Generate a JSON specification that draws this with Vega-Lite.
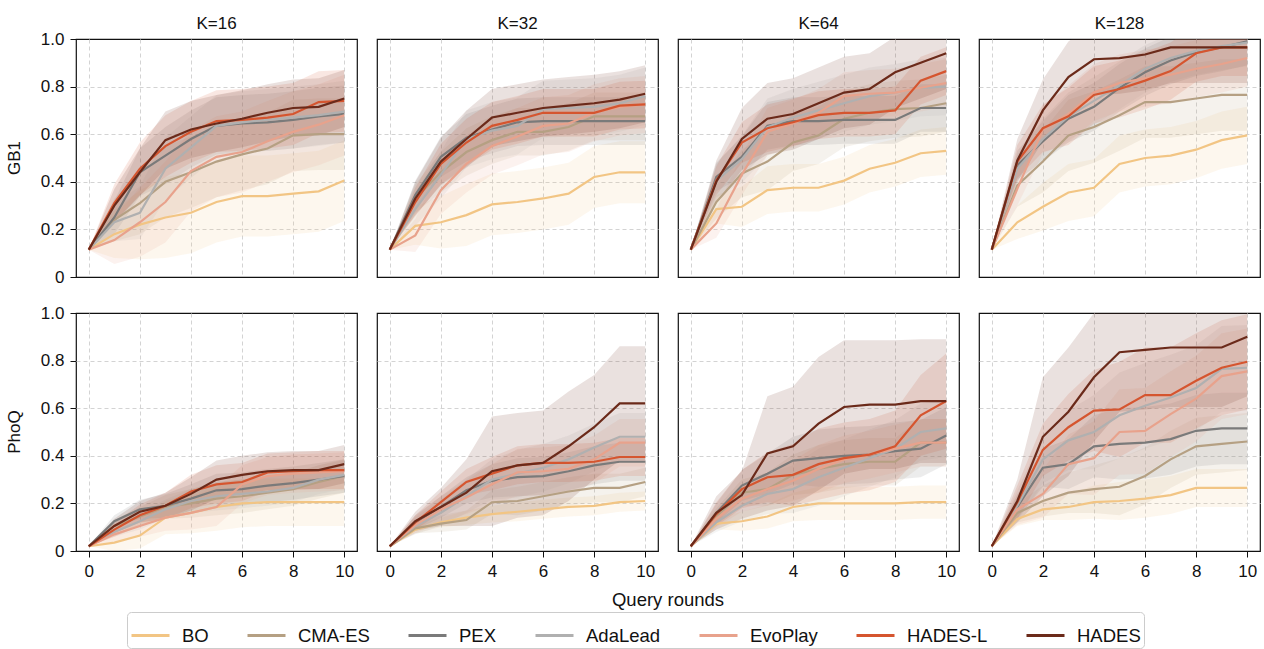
{
"$schema": "https://vega.github.io/schema/vega-lite/v6.json",
"padding": {"left": 6, "top": 15, "right": 0, "bottom": 0},
"bounds": "flush",
"datasets": {"pts": [
{"d":"GB1","k":"K=16","m":"BO","x":0,"y":0.115,"s":0},{"d":"GB1","k":"K=16","m":"BO","x":1,"y":0.18,"s":0.10},{"d":"GB1","k":"K=16","m":"BO","x":2,"y":0.22,"s":0.145},{"d":"GB1","k":"K=16","m":"BO","x":3,"y":0.25,"s":0.17},{"d":"GB1","k":"K=16","m":"BO","x":4,"y":0.27,"s":0.17},{"d":"GB1","k":"K=16","m":"BO","x":5,"y":0.315,"s":0.17},{"d":"GB1","k":"K=16","m":"BO","x":6,"y":0.34,"s":0.17},{"d":"GB1","k":"K=16","m":"BO","x":7,"y":0.34,"s":0.17},{"d":"GB1","k":"K=16","m":"BO","x":8,"y":0.35,"s":0.17},{"d":"GB1","k":"K=16","m":"BO","x":9,"y":0.36,"s":0.17},{"d":"GB1","k":"K=16","m":"BO","x":10,"y":0.405,"s":0.17},
{"d":"GB1","k":"K=16","m":"CMA-ES","x":0,"y":0.115,"s":0},{"d":"GB1","k":"K=16","m":"CMA-ES","x":1,"y":0.24,"s":0.09},{"d":"GB1","k":"K=16","m":"CMA-ES","x":2,"y":0.31,"s":0.13},{"d":"GB1","k":"K=16","m":"CMA-ES","x":3,"y":0.40,"s":0.15},{"d":"GB1","k":"K=16","m":"CMA-ES","x":4,"y":0.44,"s":0.15},{"d":"GB1","k":"K=16","m":"CMA-ES","x":5,"y":0.485,"s":0.15},{"d":"GB1","k":"K=16","m":"CMA-ES","x":6,"y":0.515,"s":0.15},{"d":"GB1","k":"K=16","m":"CMA-ES","x":7,"y":0.54,"s":0.15},{"d":"GB1","k":"K=16","m":"CMA-ES","x":8,"y":0.595,"s":0.15},{"d":"GB1","k":"K=16","m":"CMA-ES","x":9,"y":0.60,"s":0.15},{"d":"GB1","k":"K=16","m":"CMA-ES","x":10,"y":0.60,"s":0.15},
{"d":"GB1","k":"K=16","m":"PEX","x":0,"y":0.115,"s":0},{"d":"GB1","k":"K=16","m":"PEX","x":1,"y":0.25,"s":0.07},{"d":"GB1","k":"K=16","m":"PEX","x":2,"y":0.44,"s":0.10},{"d":"GB1","k":"K=16","m":"PEX","x":3,"y":0.51,"s":0.12},{"d":"GB1","k":"K=16","m":"PEX","x":4,"y":0.58,"s":0.12},{"d":"GB1","k":"K=16","m":"PEX","x":5,"y":0.635,"s":0.12},{"d":"GB1","k":"K=16","m":"PEX","x":6,"y":0.645,"s":0.12},{"d":"GB1","k":"K=16","m":"PEX","x":7,"y":0.65,"s":0.12},{"d":"GB1","k":"K=16","m":"PEX","x":8,"y":0.66,"s":0.12},{"d":"GB1","k":"K=16","m":"PEX","x":9,"y":0.675,"s":0.12},{"d":"GB1","k":"K=16","m":"PEX","x":10,"y":0.685,"s":0.12},
{"d":"GB1","k":"K=16","m":"AdaLead","x":0,"y":0.115,"s":0},{"d":"GB1","k":"K=16","m":"AdaLead","x":1,"y":0.23,"s":0.08},{"d":"GB1","k":"K=16","m":"AdaLead","x":2,"y":0.27,"s":0.11},{"d":"GB1","k":"K=16","m":"AdaLead","x":3,"y":0.455,"s":0.13},{"d":"GB1","k":"K=16","m":"AdaLead","x":4,"y":0.545,"s":0.13},{"d":"GB1","k":"K=16","m":"AdaLead","x":5,"y":0.635,"s":0.13},{"d":"GB1","k":"K=16","m":"AdaLead","x":6,"y":0.65,"s":0.13},{"d":"GB1","k":"K=16","m":"AdaLead","x":7,"y":0.66,"s":0.13},{"d":"GB1","k":"K=16","m":"AdaLead","x":8,"y":0.67,"s":0.13},{"d":"GB1","k":"K=16","m":"AdaLead","x":9,"y":0.68,"s":0.13},{"d":"GB1","k":"K=16","m":"AdaLead","x":10,"y":0.695,"s":0.13},
{"d":"GB1","k":"K=16","m":"EvoPlay","x":0,"y":0.115,"s":0},{"d":"GB1","k":"K=16","m":"EvoPlay","x":1,"y":0.155,"s":0.10},{"d":"GB1","k":"K=16","m":"EvoPlay","x":2,"y":0.23,"s":0.145},{"d":"GB1","k":"K=16","m":"EvoPlay","x":3,"y":0.315,"s":0.17},{"d":"GB1","k":"K=16","m":"EvoPlay","x":4,"y":0.445,"s":0.17},{"d":"GB1","k":"K=16","m":"EvoPlay","x":5,"y":0.505,"s":0.17},{"d":"GB1","k":"K=16","m":"EvoPlay","x":6,"y":0.525,"s":0.17},{"d":"GB1","k":"K=16","m":"EvoPlay","x":7,"y":0.57,"s":0.17},{"d":"GB1","k":"K=16","m":"EvoPlay","x":8,"y":0.61,"s":0.17},{"d":"GB1","k":"K=16","m":"EvoPlay","x":9,"y":0.64,"s":0.17},{"d":"GB1","k":"K=16","m":"EvoPlay","x":10,"y":0.68,"s":0.17},
{"d":"GB1","k":"K=16","m":"HADES-L","x":0,"y":0.115,"s":0},{"d":"GB1","k":"K=16","m":"HADES-L","x":1,"y":0.31,"s":0.08},{"d":"GB1","k":"K=16","m":"HADES-L","x":2,"y":0.455,"s":0.11},{"d":"GB1","k":"K=16","m":"HADES-L","x":3,"y":0.55,"s":0.13},{"d":"GB1","k":"K=16","m":"HADES-L","x":4,"y":0.61,"s":0.13},{"d":"GB1","k":"K=16","m":"HADES-L","x":5,"y":0.655,"s":0.13},{"d":"GB1","k":"K=16","m":"HADES-L","x":6,"y":0.66,"s":0.13},{"d":"GB1","k":"K=16","m":"HADES-L","x":7,"y":0.67,"s":0.13},{"d":"GB1","k":"K=16","m":"HADES-L","x":8,"y":0.685,"s":0.13},{"d":"GB1","k":"K=16","m":"HADES-L","x":9,"y":0.735,"s":0.13},{"d":"GB1","k":"K=16","m":"HADES-L","x":10,"y":0.74,"s":0.13},
{"d":"GB1","k":"K=16","m":"HADES","x":0,"y":0.115,"s":0},{"d":"GB1","k":"K=16","m":"HADES","x":1,"y":0.30,"s":0.07},{"d":"GB1","k":"K=16","m":"HADES","x":2,"y":0.44,"s":0.10},{"d":"GB1","k":"K=16","m":"HADES","x":3,"y":0.575,"s":0.12},{"d":"GB1","k":"K=16","m":"HADES","x":4,"y":0.62,"s":0.12},{"d":"GB1","k":"K=16","m":"HADES","x":5,"y":0.645,"s":0.12},{"d":"GB1","k":"K=16","m":"HADES","x":6,"y":0.665,"s":0.12},{"d":"GB1","k":"K=16","m":"HADES","x":7,"y":0.69,"s":0.12},{"d":"GB1","k":"K=16","m":"HADES","x":8,"y":0.71,"s":0.12},{"d":"GB1","k":"K=16","m":"HADES","x":9,"y":0.715,"s":0.12},{"d":"GB1","k":"K=16","m":"HADES","x":10,"y":0.75,"s":0.12},

{"d":"GB1","k":"K=32","m":"BO","x":0,"y":0.115,"s":0},{"d":"GB1","k":"K=32","m":"BO","x":1,"y":0.215,"s":0.08},{"d":"GB1","k":"K=32","m":"BO","x":2,"y":0.23,"s":0.11},{"d":"GB1","k":"K=32","m":"BO","x":3,"y":0.26,"s":0.13},{"d":"GB1","k":"K=32","m":"BO","x":4,"y":0.305,"s":0.13},{"d":"GB1","k":"K=32","m":"BO","x":5,"y":0.315,"s":0.13},{"d":"GB1","k":"K=32","m":"BO","x":6,"y":0.33,"s":0.13},{"d":"GB1","k":"K=32","m":"BO","x":7,"y":0.35,"s":0.13},{"d":"GB1","k":"K=32","m":"BO","x":8,"y":0.42,"s":0.13},{"d":"GB1","k":"K=32","m":"BO","x":9,"y":0.44,"s":0.13},{"d":"GB1","k":"K=32","m":"BO","x":10,"y":0.44,"s":0.13},
{"d":"GB1","k":"K=32","m":"CMA-ES","x":0,"y":0.115,"s":0},{"d":"GB1","k":"K=32","m":"CMA-ES","x":1,"y":0.33,"s":0.06},{"d":"GB1","k":"K=32","m":"CMA-ES","x":2,"y":0.44,"s":0.085},{"d":"GB1","k":"K=32","m":"CMA-ES","x":3,"y":0.525,"s":0.10},{"d":"GB1","k":"K=32","m":"CMA-ES","x":4,"y":0.575,"s":0.10},{"d":"GB1","k":"K=32","m":"CMA-ES","x":5,"y":0.61,"s":0.10},{"d":"GB1","k":"K=32","m":"CMA-ES","x":6,"y":0.61,"s":0.10},{"d":"GB1","k":"K=32","m":"CMA-ES","x":7,"y":0.63,"s":0.10},{"d":"GB1","k":"K=32","m":"CMA-ES","x":8,"y":0.675,"s":0.10},{"d":"GB1","k":"K=32","m":"CMA-ES","x":9,"y":0.675,"s":0.10},{"d":"GB1","k":"K=32","m":"CMA-ES","x":10,"y":0.675,"s":0.10},
{"d":"GB1","k":"K=32","m":"PEX","x":0,"y":0.115,"s":0},{"d":"GB1","k":"K=32","m":"PEX","x":1,"y":0.345,"s":0.06},{"d":"GB1","k":"K=32","m":"PEX","x":2,"y":0.505,"s":0.085},{"d":"GB1","k":"K=32","m":"PEX","x":3,"y":0.585,"s":0.10},{"d":"GB1","k":"K=32","m":"PEX","x":4,"y":0.62,"s":0.10},{"d":"GB1","k":"K=32","m":"PEX","x":5,"y":0.65,"s":0.10},{"d":"GB1","k":"K=32","m":"PEX","x":6,"y":0.655,"s":0.10},{"d":"GB1","k":"K=32","m":"PEX","x":7,"y":0.655,"s":0.10},{"d":"GB1","k":"K=32","m":"PEX","x":8,"y":0.655,"s":0.10},{"d":"GB1","k":"K=32","m":"PEX","x":9,"y":0.655,"s":0.10},{"d":"GB1","k":"K=32","m":"PEX","x":10,"y":0.655,"s":0.10},
{"d":"GB1","k":"K=32","m":"AdaLead","x":0,"y":0.115,"s":0},{"d":"GB1","k":"K=32","m":"AdaLead","x":1,"y":0.285,"s":0.07},{"d":"GB1","k":"K=32","m":"AdaLead","x":2,"y":0.43,"s":0.10},{"d":"GB1","k":"K=32","m":"AdaLead","x":3,"y":0.58,"s":0.12},{"d":"GB1","k":"K=32","m":"AdaLead","x":4,"y":0.615,"s":0.12},{"d":"GB1","k":"K=32","m":"AdaLead","x":5,"y":0.635,"s":0.12},{"d":"GB1","k":"K=32","m":"AdaLead","x":6,"y":0.705,"s":0.12},{"d":"GB1","k":"K=32","m":"AdaLead","x":7,"y":0.71,"s":0.12},{"d":"GB1","k":"K=32","m":"AdaLead","x":8,"y":0.715,"s":0.12},{"d":"GB1","k":"K=32","m":"AdaLead","x":9,"y":0.73,"s":0.12},{"d":"GB1","k":"K=32","m":"AdaLead","x":10,"y":0.76,"s":0.12},
{"d":"GB1","k":"K=32","m":"EvoPlay","x":0,"y":0.115,"s":0},{"d":"GB1","k":"K=32","m":"EvoPlay","x":1,"y":0.175,"s":0.07},{"d":"GB1","k":"K=32","m":"EvoPlay","x":2,"y":0.365,"s":0.10},{"d":"GB1","k":"K=32","m":"EvoPlay","x":3,"y":0.475,"s":0.12},{"d":"GB1","k":"K=32","m":"EvoPlay","x":4,"y":0.55,"s":0.12},{"d":"GB1","k":"K=32","m":"EvoPlay","x":5,"y":0.59,"s":0.12},{"d":"GB1","k":"K=32","m":"EvoPlay","x":6,"y":0.635,"s":0.12},{"d":"GB1","k":"K=32","m":"EvoPlay","x":7,"y":0.645,"s":0.12},{"d":"GB1","k":"K=32","m":"EvoPlay","x":8,"y":0.69,"s":0.12},{"d":"GB1","k":"K=32","m":"EvoPlay","x":9,"y":0.715,"s":0.12},{"d":"GB1","k":"K=32","m":"EvoPlay","x":10,"y":0.725,"s":0.12},
{"d":"GB1","k":"K=32","m":"HADES-L","x":0,"y":0.115,"s":0},{"d":"GB1","k":"K=32","m":"HADES-L","x":1,"y":0.315,"s":0.06},{"d":"GB1","k":"K=32","m":"HADES-L","x":2,"y":0.475,"s":0.085},{"d":"GB1","k":"K=32","m":"HADES-L","x":3,"y":0.565,"s":0.10},{"d":"GB1","k":"K=32","m":"HADES-L","x":4,"y":0.635,"s":0.10},{"d":"GB1","k":"K=32","m":"HADES-L","x":5,"y":0.66,"s":0.10},{"d":"GB1","k":"K=32","m":"HADES-L","x":6,"y":0.69,"s":0.10},{"d":"GB1","k":"K=32","m":"HADES-L","x":7,"y":0.69,"s":0.10},{"d":"GB1","k":"K=32","m":"HADES-L","x":8,"y":0.69,"s":0.10},{"d":"GB1","k":"K=32","m":"HADES-L","x":9,"y":0.72,"s":0.10},{"d":"GB1","k":"K=32","m":"HADES-L","x":10,"y":0.725,"s":0.10},
{"d":"GB1","k":"K=32","m":"HADES","x":0,"y":0.115,"s":0},{"d":"GB1","k":"K=32","m":"HADES","x":1,"y":0.33,"s":0.07},{"d":"GB1","k":"K=32","m":"HADES","x":2,"y":0.485,"s":0.10},{"d":"GB1","k":"K=32","m":"HADES","x":3,"y":0.58,"s":0.12},{"d":"GB1","k":"K=32","m":"HADES","x":4,"y":0.67,"s":0.12},{"d":"GB1","k":"K=32","m":"HADES","x":5,"y":0.69,"s":0.12},{"d":"GB1","k":"K=32","m":"HADES","x":6,"y":0.71,"s":0.12},{"d":"GB1","k":"K=32","m":"HADES","x":7,"y":0.72,"s":0.12},{"d":"GB1","k":"K=32","m":"HADES","x":8,"y":0.73,"s":0.12},{"d":"GB1","k":"K=32","m":"HADES","x":9,"y":0.745,"s":0.12},{"d":"GB1","k":"K=32","m":"HADES","x":10,"y":0.77,"s":0.12},

{"d":"GB1","k":"K=64","m":"BO","x":0,"y":0.115,"s":0},{"d":"GB1","k":"K=64","m":"BO","x":1,"y":0.285,"s":0.06},{"d":"GB1","k":"K=64","m":"BO","x":2,"y":0.295,"s":0.085},{"d":"GB1","k":"K=64","m":"BO","x":3,"y":0.365,"s":0.10},{"d":"GB1","k":"K=64","m":"BO","x":4,"y":0.375,"s":0.10},{"d":"GB1","k":"K=64","m":"BO","x":5,"y":0.375,"s":0.10},{"d":"GB1","k":"K=64","m":"BO","x":6,"y":0.405,"s":0.10},{"d":"GB1","k":"K=64","m":"BO","x":7,"y":0.455,"s":0.10},{"d":"GB1","k":"K=64","m":"BO","x":8,"y":0.48,"s":0.10},{"d":"GB1","k":"K=64","m":"BO","x":9,"y":0.52,"s":0.10},{"d":"GB1","k":"K=64","m":"BO","x":10,"y":0.53,"s":0.10},
{"d":"GB1","k":"K=64","m":"CMA-ES","x":0,"y":0.115,"s":0},{"d":"GB1","k":"K=64","m":"CMA-ES","x":1,"y":0.315,"s":0.07},{"d":"GB1","k":"K=64","m":"CMA-ES","x":2,"y":0.435,"s":0.10},{"d":"GB1","k":"K=64","m":"CMA-ES","x":3,"y":0.485,"s":0.12},{"d":"GB1","k":"K=64","m":"CMA-ES","x":4,"y":0.565,"s":0.12},{"d":"GB1","k":"K=64","m":"CMA-ES","x":5,"y":0.595,"s":0.12},{"d":"GB1","k":"K=64","m":"CMA-ES","x":6,"y":0.665,"s":0.12},{"d":"GB1","k":"K=64","m":"CMA-ES","x":7,"y":0.69,"s":0.12},{"d":"GB1","k":"K=64","m":"CMA-ES","x":8,"y":0.705,"s":0.12},{"d":"GB1","k":"K=64","m":"CMA-ES","x":9,"y":0.71,"s":0.12},{"d":"GB1","k":"K=64","m":"CMA-ES","x":10,"y":0.73,"s":0.12},
{"d":"GB1","k":"K=64","m":"PEX","x":0,"y":0.115,"s":0},{"d":"GB1","k":"K=64","m":"PEX","x":1,"y":0.42,"s":0.06},{"d":"GB1","k":"K=64","m":"PEX","x":2,"y":0.505,"s":0.085},{"d":"GB1","k":"K=64","m":"PEX","x":3,"y":0.635,"s":0.10},{"d":"GB1","k":"K=64","m":"PEX","x":4,"y":0.655,"s":0.10},{"d":"GB1","k":"K=64","m":"PEX","x":5,"y":0.655,"s":0.10},{"d":"GB1","k":"K=64","m":"PEX","x":6,"y":0.66,"s":0.10},{"d":"GB1","k":"K=64","m":"PEX","x":7,"y":0.66,"s":0.10},{"d":"GB1","k":"K=64","m":"PEX","x":8,"y":0.66,"s":0.10},{"d":"GB1","k":"K=64","m":"PEX","x":9,"y":0.71,"s":0.10},{"d":"GB1","k":"K=64","m":"PEX","x":10,"y":0.71,"s":0.10},
{"d":"GB1","k":"K=64","m":"AdaLead","x":0,"y":0.115,"s":0},{"d":"GB1","k":"K=64","m":"AdaLead","x":1,"y":0.405,"s":0.07},{"d":"GB1","k":"K=64","m":"AdaLead","x":2,"y":0.495,"s":0.10},{"d":"GB1","k":"K=64","m":"AdaLead","x":3,"y":0.63,"s":0.12},{"d":"GB1","k":"K=64","m":"AdaLead","x":4,"y":0.67,"s":0.12},{"d":"GB1","k":"K=64","m":"AdaLead","x":5,"y":0.70,"s":0.12},{"d":"GB1","k":"K=64","m":"AdaLead","x":6,"y":0.73,"s":0.12},{"d":"GB1","k":"K=64","m":"AdaLead","x":7,"y":0.76,"s":0.12},{"d":"GB1","k":"K=64","m":"AdaLead","x":8,"y":0.775,"s":0.12},{"d":"GB1","k":"K=64","m":"AdaLead","x":9,"y":0.795,"s":0.12},{"d":"GB1","k":"K=64","m":"AdaLead","x":10,"y":0.80,"s":0.12},
{"d":"GB1","k":"K=64","m":"EvoPlay","x":0,"y":0.115,"s":0},{"d":"GB1","k":"K=64","m":"EvoPlay","x":1,"y":0.225,"s":0.06},{"d":"GB1","k":"K=64","m":"EvoPlay","x":2,"y":0.43,"s":0.085},{"d":"GB1","k":"K=64","m":"EvoPlay","x":3,"y":0.61,"s":0.10},{"d":"GB1","k":"K=64","m":"EvoPlay","x":4,"y":0.645,"s":0.10},{"d":"GB1","k":"K=64","m":"EvoPlay","x":5,"y":0.69,"s":0.10},{"d":"GB1","k":"K=64","m":"EvoPlay","x":6,"y":0.76,"s":0.10},{"d":"GB1","k":"K=64","m":"EvoPlay","x":7,"y":0.77,"s":0.10},{"d":"GB1","k":"K=64","m":"EvoPlay","x":8,"y":0.775,"s":0.10},{"d":"GB1","k":"K=64","m":"EvoPlay","x":9,"y":0.795,"s":0.10},{"d":"GB1","k":"K=64","m":"EvoPlay","x":10,"y":0.815,"s":0.10},
{"d":"GB1","k":"K=64","m":"HADES-L","x":0,"y":0.115,"s":0},{"d":"GB1","k":"K=64","m":"HADES-L","x":1,"y":0.405,"s":0.06},{"d":"GB1","k":"K=64","m":"HADES-L","x":2,"y":0.565,"s":0.085},{"d":"GB1","k":"K=64","m":"HADES-L","x":3,"y":0.625,"s":0.10},{"d":"GB1","k":"K=64","m":"HADES-L","x":4,"y":0.65,"s":0.10},{"d":"GB1","k":"K=64","m":"HADES-L","x":5,"y":0.68,"s":0.10},{"d":"GB1","k":"K=64","m":"HADES-L","x":6,"y":0.69,"s":0.10},{"d":"GB1","k":"K=64","m":"HADES-L","x":7,"y":0.69,"s":0.10},{"d":"GB1","k":"K=64","m":"HADES-L","x":8,"y":0.70,"s":0.10},{"d":"GB1","k":"K=64","m":"HADES-L","x":9,"y":0.825,"s":0.10},{"d":"GB1","k":"K=64","m":"HADES-L","x":10,"y":0.865,"s":0.10},
{"d":"GB1","k":"K=64","m":"HADES","x":0,"y":0.115,"s":0},{"d":"GB1","k":"K=64","m":"HADES","x":1,"y":0.40,"s":0.09},{"d":"GB1","k":"K=64","m":"HADES","x":2,"y":0.58,"s":0.13},{"d":"GB1","k":"K=64","m":"HADES","x":3,"y":0.665,"s":0.15},{"d":"GB1","k":"K=64","m":"HADES","x":4,"y":0.685,"s":0.15},{"d":"GB1","k":"K=64","m":"HADES","x":5,"y":0.73,"s":0.15},{"d":"GB1","k":"K=64","m":"HADES","x":6,"y":0.775,"s":0.15},{"d":"GB1","k":"K=64","m":"HADES","x":7,"y":0.79,"s":0.15},{"d":"GB1","k":"K=64","m":"HADES","x":8,"y":0.86,"s":0.15},{"d":"GB1","k":"K=64","m":"HADES","x":9,"y":0.90,"s":0.15},{"d":"GB1","k":"K=64","m":"HADES","x":10,"y":0.94,"s":0.15},

{"d":"GB1","k":"K=128","m":"BO","x":0,"y":0.115,"s":0},{"d":"GB1","k":"K=128","m":"BO","x":1,"y":0.23,"s":0.07},{"d":"GB1","k":"K=128","m":"BO","x":2,"y":0.295,"s":0.10},{"d":"GB1","k":"K=128","m":"BO","x":3,"y":0.355,"s":0.12},{"d":"GB1","k":"K=128","m":"BO","x":4,"y":0.375,"s":0.12},{"d":"GB1","k":"K=128","m":"BO","x":5,"y":0.475,"s":0.12},{"d":"GB1","k":"K=128","m":"BO","x":6,"y":0.50,"s":0.12},{"d":"GB1","k":"K=128","m":"BO","x":7,"y":0.51,"s":0.12},{"d":"GB1","k":"K=128","m":"BO","x":8,"y":0.535,"s":0.12},{"d":"GB1","k":"K=128","m":"BO","x":9,"y":0.575,"s":0.12},{"d":"GB1","k":"K=128","m":"BO","x":10,"y":0.595,"s":0.12},
{"d":"GB1","k":"K=128","m":"CMA-ES","x":0,"y":0.115,"s":0},{"d":"GB1","k":"K=128","m":"CMA-ES","x":1,"y":0.385,"s":0.09},{"d":"GB1","k":"K=128","m":"CMA-ES","x":2,"y":0.485,"s":0.13},{"d":"GB1","k":"K=128","m":"CMA-ES","x":3,"y":0.595,"s":0.15},{"d":"GB1","k":"K=128","m":"CMA-ES","x":4,"y":0.63,"s":0.15},{"d":"GB1","k":"K=128","m":"CMA-ES","x":5,"y":0.68,"s":0.15},{"d":"GB1","k":"K=128","m":"CMA-ES","x":6,"y":0.735,"s":0.15},{"d":"GB1","k":"K=128","m":"CMA-ES","x":7,"y":0.735,"s":0.15},{"d":"GB1","k":"K=128","m":"CMA-ES","x":8,"y":0.75,"s":0.15},{"d":"GB1","k":"K=128","m":"CMA-ES","x":9,"y":0.765,"s":0.15},{"d":"GB1","k":"K=128","m":"CMA-ES","x":10,"y":0.765,"s":0.15},
{"d":"GB1","k":"K=128","m":"PEX","x":0,"y":0.115,"s":0},{"d":"GB1","k":"K=128","m":"PEX","x":1,"y":0.47,"s":0.06},{"d":"GB1","k":"K=128","m":"PEX","x":2,"y":0.57,"s":0.085},{"d":"GB1","k":"K=128","m":"PEX","x":3,"y":0.665,"s":0.10},{"d":"GB1","k":"K=128","m":"PEX","x":4,"y":0.715,"s":0.10},{"d":"GB1","k":"K=128","m":"PEX","x":5,"y":0.795,"s":0.10},{"d":"GB1","k":"K=128","m":"PEX","x":6,"y":0.86,"s":0.10},{"d":"GB1","k":"K=128","m":"PEX","x":7,"y":0.91,"s":0.10},{"d":"GB1","k":"K=128","m":"PEX","x":8,"y":0.945,"s":0.10},{"d":"GB1","k":"K=128","m":"PEX","x":9,"y":0.965,"s":0.10},{"d":"GB1","k":"K=128","m":"PEX","x":10,"y":0.99,"s":0.10},
{"d":"GB1","k":"K=128","m":"AdaLead","x":0,"y":0.115,"s":0},{"d":"GB1","k":"K=128","m":"AdaLead","x":1,"y":0.455,"s":0.06},{"d":"GB1","k":"K=128","m":"AdaLead","x":2,"y":0.58,"s":0.085},{"d":"GB1","k":"K=128","m":"AdaLead","x":3,"y":0.675,"s":0.10},{"d":"GB1","k":"K=128","m":"AdaLead","x":4,"y":0.74,"s":0.10},{"d":"GB1","k":"K=128","m":"AdaLead","x":5,"y":0.805,"s":0.10},{"d":"GB1","k":"K=128","m":"AdaLead","x":6,"y":0.875,"s":0.10},{"d":"GB1","k":"K=128","m":"AdaLead","x":7,"y":0.92,"s":0.10},{"d":"GB1","k":"K=128","m":"AdaLead","x":8,"y":0.95,"s":0.10},{"d":"GB1","k":"K=128","m":"AdaLead","x":9,"y":0.97,"s":0.10},{"d":"GB1","k":"K=128","m":"AdaLead","x":10,"y":0.985,"s":0.10},
{"d":"GB1","k":"K=128","m":"EvoPlay","x":0,"y":0.115,"s":0},{"d":"GB1","k":"K=128","m":"EvoPlay","x":1,"y":0.37,"s":0.07},{"d":"GB1","k":"K=128","m":"EvoPlay","x":2,"y":0.62,"s":0.10},{"d":"GB1","k":"K=128","m":"EvoPlay","x":3,"y":0.685,"s":0.12},{"d":"GB1","k":"K=128","m":"EvoPlay","x":4,"y":0.775,"s":0.12},{"d":"GB1","k":"K=128","m":"EvoPlay","x":5,"y":0.815,"s":0.12},{"d":"GB1","k":"K=128","m":"EvoPlay","x":6,"y":0.835,"s":0.12},{"d":"GB1","k":"K=128","m":"EvoPlay","x":7,"y":0.85,"s":0.12},{"d":"GB1","k":"K=128","m":"EvoPlay","x":8,"y":0.875,"s":0.12},{"d":"GB1","k":"K=128","m":"EvoPlay","x":9,"y":0.895,"s":0.12},{"d":"GB1","k":"K=128","m":"EvoPlay","x":10,"y":0.92,"s":0.12},
{"d":"GB1","k":"K=128","m":"HADES-L","x":0,"y":0.115,"s":0},{"d":"GB1","k":"K=128","m":"HADES-L","x":1,"y":0.485,"s":0.07},{"d":"GB1","k":"K=128","m":"HADES-L","x":2,"y":0.625,"s":0.10},{"d":"GB1","k":"K=128","m":"HADES-L","x":3,"y":0.675,"s":0.12},{"d":"GB1","k":"K=128","m":"HADES-L","x":4,"y":0.765,"s":0.12},{"d":"GB1","k":"K=128","m":"HADES-L","x":5,"y":0.79,"s":0.12},{"d":"GB1","k":"K=128","m":"HADES-L","x":6,"y":0.825,"s":0.12},{"d":"GB1","k":"K=128","m":"HADES-L","x":7,"y":0.865,"s":0.12},{"d":"GB1","k":"K=128","m":"HADES-L","x":8,"y":0.94,"s":0.12},{"d":"GB1","k":"K=128","m":"HADES-L","x":9,"y":0.965,"s":0.12},{"d":"GB1","k":"K=128","m":"HADES-L","x":10,"y":0.965,"s":0.12},
{"d":"GB1","k":"K=128","m":"HADES","x":0,"y":0.115,"s":0},{"d":"GB1","k":"K=128","m":"HADES","x":1,"y":0.49,"s":0.09},{"d":"GB1","k":"K=128","m":"HADES","x":2,"y":0.70,"s":0.13},{"d":"GB1","k":"K=128","m":"HADES","x":3,"y":0.84,"s":0.15},{"d":"GB1","k":"K=128","m":"HADES","x":4,"y":0.915,"s":0.15},{"d":"GB1","k":"K=128","m":"HADES","x":5,"y":0.92,"s":0.15},{"d":"GB1","k":"K=128","m":"HADES","x":6,"y":0.935,"s":0.15},{"d":"GB1","k":"K=128","m":"HADES","x":7,"y":0.965,"s":0.15},{"d":"GB1","k":"K=128","m":"HADES","x":8,"y":0.965,"s":0.15},{"d":"GB1","k":"K=128","m":"HADES","x":9,"y":0.965,"s":0.15},{"d":"GB1","k":"K=128","m":"HADES","x":10,"y":0.965,"s":0.15},

{"d":"PhoQ","k":"K=16","m":"BO","x":0,"y":0.02,"s":0},{"d":"PhoQ","k":"K=16","m":"BO","x":1,"y":0.035,"s":0.035},{"d":"PhoQ","k":"K=16","m":"BO","x":2,"y":0.065,"s":0.055},{"d":"PhoQ","k":"K=16","m":"BO","x":3,"y":0.14,"s":0.07},{"d":"PhoQ","k":"K=16","m":"BO","x":4,"y":0.16,"s":0.085},{"d":"PhoQ","k":"K=16","m":"BO","x":5,"y":0.185,"s":0.10},{"d":"PhoQ","k":"K=16","m":"BO","x":6,"y":0.20,"s":0.10},{"d":"PhoQ","k":"K=16","m":"BO","x":7,"y":0.205,"s":0.10},{"d":"PhoQ","k":"K=16","m":"BO","x":8,"y":0.205,"s":0.10},{"d":"PhoQ","k":"K=16","m":"BO","x":9,"y":0.205,"s":0.10},{"d":"PhoQ","k":"K=16","m":"BO","x":10,"y":0.205,"s":0.10},
{"d":"PhoQ","k":"K=16","m":"CMA-ES","x":0,"y":0.02,"s":0},{"d":"PhoQ","k":"K=16","m":"CMA-ES","x":1,"y":0.105,"s":0.025},{"d":"PhoQ","k":"K=16","m":"CMA-ES","x":2,"y":0.145,"s":0.04},{"d":"PhoQ","k":"K=16","m":"CMA-ES","x":3,"y":0.185,"s":0.05},{"d":"PhoQ","k":"K=16","m":"CMA-ES","x":4,"y":0.20,"s":0.06},{"d":"PhoQ","k":"K=16","m":"CMA-ES","x":5,"y":0.22,"s":0.07},{"d":"PhoQ","k":"K=16","m":"CMA-ES","x":6,"y":0.23,"s":0.07},{"d":"PhoQ","k":"K=16","m":"CMA-ES","x":7,"y":0.245,"s":0.07},{"d":"PhoQ","k":"K=16","m":"CMA-ES","x":8,"y":0.26,"s":0.07},{"d":"PhoQ","k":"K=16","m":"CMA-ES","x":9,"y":0.29,"s":0.07},{"d":"PhoQ","k":"K=16","m":"CMA-ES","x":10,"y":0.315,"s":0.07},
{"d":"PhoQ","k":"K=16","m":"PEX","x":0,"y":0.02,"s":0},{"d":"PhoQ","k":"K=16","m":"PEX","x":1,"y":0.125,"s":0.025},{"d":"PhoQ","k":"K=16","m":"PEX","x":2,"y":0.175,"s":0.04},{"d":"PhoQ","k":"K=16","m":"PEX","x":3,"y":0.19,"s":0.05},{"d":"PhoQ","k":"K=16","m":"PEX","x":4,"y":0.22,"s":0.06},{"d":"PhoQ","k":"K=16","m":"PEX","x":5,"y":0.255,"s":0.07},{"d":"PhoQ","k":"K=16","m":"PEX","x":6,"y":0.26,"s":0.07},{"d":"PhoQ","k":"K=16","m":"PEX","x":7,"y":0.275,"s":0.07},{"d":"PhoQ","k":"K=16","m":"PEX","x":8,"y":0.285,"s":0.07},{"d":"PhoQ","k":"K=16","m":"PEX","x":9,"y":0.30,"s":0.07},{"d":"PhoQ","k":"K=16","m":"PEX","x":10,"y":0.315,"s":0.07},
{"d":"PhoQ","k":"K=16","m":"AdaLead","x":0,"y":0.02,"s":0},{"d":"PhoQ","k":"K=16","m":"AdaLead","x":1,"y":0.08,"s":0.02},{"d":"PhoQ","k":"K=16","m":"AdaLead","x":2,"y":0.125,"s":0.035},{"d":"PhoQ","k":"K=16","m":"AdaLead","x":3,"y":0.175,"s":0.04},{"d":"PhoQ","k":"K=16","m":"AdaLead","x":4,"y":0.21,"s":0.05},{"d":"PhoQ","k":"K=16","m":"AdaLead","x":5,"y":0.23,"s":0.06},{"d":"PhoQ","k":"K=16","m":"AdaLead","x":6,"y":0.24,"s":0.06},{"d":"PhoQ","k":"K=16","m":"AdaLead","x":7,"y":0.25,"s":0.06},{"d":"PhoQ","k":"K=16","m":"AdaLead","x":8,"y":0.265,"s":0.06},{"d":"PhoQ","k":"K=16","m":"AdaLead","x":9,"y":0.30,"s":0.06},{"d":"PhoQ","k":"K=16","m":"AdaLead","x":10,"y":0.32,"s":0.06},
{"d":"PhoQ","k":"K=16","m":"EvoPlay","x":0,"y":0.02,"s":0},{"d":"PhoQ","k":"K=16","m":"EvoPlay","x":1,"y":0.07,"s":0.03},{"d":"PhoQ","k":"K=16","m":"EvoPlay","x":2,"y":0.105,"s":0.045},{"d":"PhoQ","k":"K=16","m":"EvoPlay","x":3,"y":0.14,"s":0.055},{"d":"PhoQ","k":"K=16","m":"EvoPlay","x":4,"y":0.16,"s":0.07},{"d":"PhoQ","k":"K=16","m":"EvoPlay","x":5,"y":0.185,"s":0.08},{"d":"PhoQ","k":"K=16","m":"EvoPlay","x":6,"y":0.28,"s":0.08},{"d":"PhoQ","k":"K=16","m":"EvoPlay","x":7,"y":0.315,"s":0.08},{"d":"PhoQ","k":"K=16","m":"EvoPlay","x":8,"y":0.325,"s":0.08},{"d":"PhoQ","k":"K=16","m":"EvoPlay","x":9,"y":0.33,"s":0.08},{"d":"PhoQ","k":"K=16","m":"EvoPlay","x":10,"y":0.335,"s":0.08},
{"d":"PhoQ","k":"K=16","m":"HADES-L","x":0,"y":0.02,"s":0},{"d":"PhoQ","k":"K=16","m":"HADES-L","x":1,"y":0.09,"s":0.03},{"d":"PhoQ","k":"K=16","m":"HADES-L","x":2,"y":0.15,"s":0.045},{"d":"PhoQ","k":"K=16","m":"HADES-L","x":3,"y":0.19,"s":0.055},{"d":"PhoQ","k":"K=16","m":"HADES-L","x":4,"y":0.25,"s":0.07},{"d":"PhoQ","k":"K=16","m":"HADES-L","x":5,"y":0.28,"s":0.08},{"d":"PhoQ","k":"K=16","m":"HADES-L","x":6,"y":0.29,"s":0.08},{"d":"PhoQ","k":"K=16","m":"HADES-L","x":7,"y":0.33,"s":0.08},{"d":"PhoQ","k":"K=16","m":"HADES-L","x":8,"y":0.335,"s":0.08},{"d":"PhoQ","k":"K=16","m":"HADES-L","x":9,"y":0.34,"s":0.08},{"d":"PhoQ","k":"K=16","m":"HADES-L","x":10,"y":0.34,"s":0.08},
{"d":"PhoQ","k":"K=16","m":"HADES","x":0,"y":0.02,"s":0},{"d":"PhoQ","k":"K=16","m":"HADES","x":1,"y":0.105,"s":0.03},{"d":"PhoQ","k":"K=16","m":"HADES","x":2,"y":0.165,"s":0.045},{"d":"PhoQ","k":"K=16","m":"HADES","x":3,"y":0.19,"s":0.055},{"d":"PhoQ","k":"K=16","m":"HADES","x":4,"y":0.24,"s":0.07},{"d":"PhoQ","k":"K=16","m":"HADES","x":5,"y":0.30,"s":0.08},{"d":"PhoQ","k":"K=16","m":"HADES","x":6,"y":0.32,"s":0.08},{"d":"PhoQ","k":"K=16","m":"HADES","x":7,"y":0.335,"s":0.08},{"d":"PhoQ","k":"K=16","m":"HADES","x":8,"y":0.34,"s":0.08},{"d":"PhoQ","k":"K=16","m":"HADES","x":9,"y":0.34,"s":0.08},{"d":"PhoQ","k":"K=16","m":"HADES","x":10,"y":0.365,"s":0.08},

{"d":"PhoQ","k":"K=32","m":"BO","x":0,"y":0.02,"s":0},{"d":"PhoQ","k":"K=32","m":"BO","x":1,"y":0.09,"s":0.015},{"d":"PhoQ","k":"K=32","m":"BO","x":2,"y":0.12,"s":0.02},{"d":"PhoQ","k":"K=32","m":"BO","x":3,"y":0.14,"s":0.03},{"d":"PhoQ","k":"K=32","m":"BO","x":4,"y":0.155,"s":0.035},{"d":"PhoQ","k":"K=32","m":"BO","x":5,"y":0.165,"s":0.04},{"d":"PhoQ","k":"K=32","m":"BO","x":6,"y":0.175,"s":0.04},{"d":"PhoQ","k":"K=32","m":"BO","x":7,"y":0.185,"s":0.04},{"d":"PhoQ","k":"K=32","m":"BO","x":8,"y":0.19,"s":0.04},{"d":"PhoQ","k":"K=32","m":"BO","x":9,"y":0.205,"s":0.04},{"d":"PhoQ","k":"K=32","m":"BO","x":10,"y":0.21,"s":0.04},
{"d":"PhoQ","k":"K=32","m":"CMA-ES","x":0,"y":0.02,"s":0},{"d":"PhoQ","k":"K=32","m":"CMA-ES","x":1,"y":0.095,"s":0.02},{"d":"PhoQ","k":"K=32","m":"CMA-ES","x":2,"y":0.115,"s":0.035},{"d":"PhoQ","k":"K=32","m":"CMA-ES","x":3,"y":0.13,"s":0.04},{"d":"PhoQ","k":"K=32","m":"CMA-ES","x":4,"y":0.205,"s":0.05},{"d":"PhoQ","k":"K=32","m":"CMA-ES","x":5,"y":0.21,"s":0.06},{"d":"PhoQ","k":"K=32","m":"CMA-ES","x":6,"y":0.23,"s":0.06},{"d":"PhoQ","k":"K=32","m":"CMA-ES","x":7,"y":0.25,"s":0.06},{"d":"PhoQ","k":"K=32","m":"CMA-ES","x":8,"y":0.265,"s":0.06},{"d":"PhoQ","k":"K=32","m":"CMA-ES","x":9,"y":0.265,"s":0.06},{"d":"PhoQ","k":"K=32","m":"CMA-ES","x":10,"y":0.29,"s":0.06},
{"d":"PhoQ","k":"K=32","m":"PEX","x":0,"y":0.02,"s":0},{"d":"PhoQ","k":"K=32","m":"PEX","x":1,"y":0.12,"s":0.03},{"d":"PhoQ","k":"K=32","m":"PEX","x":2,"y":0.185,"s":0.045},{"d":"PhoQ","k":"K=32","m":"PEX","x":3,"y":0.255,"s":0.055},{"d":"PhoQ","k":"K=32","m":"PEX","x":4,"y":0.295,"s":0.07},{"d":"PhoQ","k":"K=32","m":"PEX","x":5,"y":0.31,"s":0.08},{"d":"PhoQ","k":"K=32","m":"PEX","x":6,"y":0.315,"s":0.08},{"d":"PhoQ","k":"K=32","m":"PEX","x":7,"y":0.335,"s":0.08},{"d":"PhoQ","k":"K=32","m":"PEX","x":8,"y":0.36,"s":0.08},{"d":"PhoQ","k":"K=32","m":"PEX","x":9,"y":0.375,"s":0.08},{"d":"PhoQ","k":"K=32","m":"PEX","x":10,"y":0.375,"s":0.08},
{"d":"PhoQ","k":"K=32","m":"AdaLead","x":0,"y":0.02,"s":0},{"d":"PhoQ","k":"K=32","m":"AdaLead","x":1,"y":0.105,"s":0.035},{"d":"PhoQ","k":"K=32","m":"AdaLead","x":2,"y":0.16,"s":0.055},{"d":"PhoQ","k":"K=32","m":"AdaLead","x":3,"y":0.23,"s":0.07},{"d":"PhoQ","k":"K=32","m":"AdaLead","x":4,"y":0.30,"s":0.085},{"d":"PhoQ","k":"K=32","m":"AdaLead","x":5,"y":0.325,"s":0.10},{"d":"PhoQ","k":"K=32","m":"AdaLead","x":6,"y":0.35,"s":0.10},{"d":"PhoQ","k":"K=32","m":"AdaLead","x":7,"y":0.385,"s":0.10},{"d":"PhoQ","k":"K=32","m":"AdaLead","x":8,"y":0.435,"s":0.10},{"d":"PhoQ","k":"K=32","m":"AdaLead","x":9,"y":0.48,"s":0.10},{"d":"PhoQ","k":"K=32","m":"AdaLead","x":10,"y":0.48,"s":0.10},
{"d":"PhoQ","k":"K=32","m":"EvoPlay","x":0,"y":0.02,"s":0},{"d":"PhoQ","k":"K=32","m":"EvoPlay","x":1,"y":0.11,"s":0.035},{"d":"PhoQ","k":"K=32","m":"EvoPlay","x":2,"y":0.175,"s":0.055},{"d":"PhoQ","k":"K=32","m":"EvoPlay","x":3,"y":0.225,"s":0.07},{"d":"PhoQ","k":"K=32","m":"EvoPlay","x":4,"y":0.28,"s":0.085},{"d":"PhoQ","k":"K=32","m":"EvoPlay","x":5,"y":0.33,"s":0.10},{"d":"PhoQ","k":"K=32","m":"EvoPlay","x":6,"y":0.335,"s":0.10},{"d":"PhoQ","k":"K=32","m":"EvoPlay","x":7,"y":0.345,"s":0.10},{"d":"PhoQ","k":"K=32","m":"EvoPlay","x":8,"y":0.385,"s":0.10},{"d":"PhoQ","k":"K=32","m":"EvoPlay","x":9,"y":0.455,"s":0.10},{"d":"PhoQ","k":"K=32","m":"EvoPlay","x":10,"y":0.455,"s":0.10},
{"d":"PhoQ","k":"K=32","m":"HADES-L","x":0,"y":0.02,"s":0},{"d":"PhoQ","k":"K=32","m":"HADES-L","x":1,"y":0.12,"s":0.03},{"d":"PhoQ","k":"K=32","m":"HADES-L","x":2,"y":0.205,"s":0.045},{"d":"PhoQ","k":"K=32","m":"HADES-L","x":3,"y":0.29,"s":0.055},{"d":"PhoQ","k":"K=32","m":"HADES-L","x":4,"y":0.325,"s":0.07},{"d":"PhoQ","k":"K=32","m":"HADES-L","x":5,"y":0.36,"s":0.08},{"d":"PhoQ","k":"K=32","m":"HADES-L","x":6,"y":0.37,"s":0.08},{"d":"PhoQ","k":"K=32","m":"HADES-L","x":7,"y":0.37,"s":0.08},{"d":"PhoQ","k":"K=32","m":"HADES-L","x":8,"y":0.375,"s":0.08},{"d":"PhoQ","k":"K=32","m":"HADES-L","x":9,"y":0.395,"s":0.08},{"d":"PhoQ","k":"K=32","m":"HADES-L","x":10,"y":0.395,"s":0.08},
{"d":"PhoQ","k":"K=32","m":"HADES","x":0,"y":0.02,"s":0},{"d":"PhoQ","k":"K=32","m":"HADES","x":1,"y":0.125,"s":0.04},{"d":"PhoQ","k":"K=32","m":"HADES","x":2,"y":0.185,"s":0.08},{"d":"PhoQ","k":"K=32","m":"HADES","x":3,"y":0.245,"s":0.14},{"d":"PhoQ","k":"K=32","m":"HADES","x":4,"y":0.335,"s":0.23},{"d":"PhoQ","k":"K=32","m":"HADES","x":5,"y":0.36,"s":0.22},{"d":"PhoQ","k":"K=32","m":"HADES","x":6,"y":0.37,"s":0.22},{"d":"PhoQ","k":"K=32","m":"HADES","x":7,"y":0.44,"s":0.23},{"d":"PhoQ","k":"K=32","m":"HADES","x":8,"y":0.52,"s":0.22},{"d":"PhoQ","k":"K=32","m":"HADES","x":9,"y":0.62,"s":0.24},{"d":"PhoQ","k":"K=32","m":"HADES","x":10,"y":0.62,"s":0.24},

{"d":"PhoQ","k":"K=64","m":"BO","x":0,"y":0.02,"s":0},{"d":"PhoQ","k":"K=64","m":"BO","x":1,"y":0.115,"s":0.025},{"d":"PhoQ","k":"K=64","m":"BO","x":2,"y":0.125,"s":0.04},{"d":"PhoQ","k":"K=64","m":"BO","x":3,"y":0.145,"s":0.05},{"d":"PhoQ","k":"K=64","m":"BO","x":4,"y":0.185,"s":0.06},{"d":"PhoQ","k":"K=64","m":"BO","x":5,"y":0.20,"s":0.07},{"d":"PhoQ","k":"K=64","m":"BO","x":6,"y":0.20,"s":0.07},{"d":"PhoQ","k":"K=64","m":"BO","x":7,"y":0.20,"s":0.07},{"d":"PhoQ","k":"K=64","m":"BO","x":8,"y":0.20,"s":0.07},{"d":"PhoQ","k":"K=64","m":"BO","x":9,"y":0.205,"s":0.07},{"d":"PhoQ","k":"K=64","m":"BO","x":10,"y":0.205,"s":0.07},
{"d":"PhoQ","k":"K=64","m":"CMA-ES","x":0,"y":0.02,"s":0},{"d":"PhoQ","k":"K=64","m":"CMA-ES","x":1,"y":0.145,"s":0.035},{"d":"PhoQ","k":"K=64","m":"CMA-ES","x":2,"y":0.245,"s":0.055},{"d":"PhoQ","k":"K=64","m":"CMA-ES","x":3,"y":0.26,"s":0.07},{"d":"PhoQ","k":"K=64","m":"CMA-ES","x":4,"y":0.32,"s":0.085},{"d":"PhoQ","k":"K=64","m":"CMA-ES","x":5,"y":0.345,"s":0.10},{"d":"PhoQ","k":"K=64","m":"CMA-ES","x":6,"y":0.365,"s":0.10},{"d":"PhoQ","k":"K=64","m":"CMA-ES","x":7,"y":0.375,"s":0.10},{"d":"PhoQ","k":"K=64","m":"CMA-ES","x":8,"y":0.375,"s":0.10},{"d":"PhoQ","k":"K=64","m":"CMA-ES","x":9,"y":0.455,"s":0.10},{"d":"PhoQ","k":"K=64","m":"CMA-ES","x":10,"y":0.455,"s":0.10},
{"d":"PhoQ","k":"K=64","m":"PEX","x":0,"y":0.02,"s":0},{"d":"PhoQ","k":"K=64","m":"PEX","x":1,"y":0.16,"s":0.04},{"d":"PhoQ","k":"K=64","m":"PEX","x":2,"y":0.275,"s":0.065},{"d":"PhoQ","k":"K=64","m":"PEX","x":3,"y":0.325,"s":0.085},{"d":"PhoQ","k":"K=64","m":"PEX","x":4,"y":0.38,"s":0.10},{"d":"PhoQ","k":"K=64","m":"PEX","x":5,"y":0.39,"s":0.12},{"d":"PhoQ","k":"K=64","m":"PEX","x":6,"y":0.40,"s":0.12},{"d":"PhoQ","k":"K=64","m":"PEX","x":7,"y":0.405,"s":0.12},{"d":"PhoQ","k":"K=64","m":"PEX","x":8,"y":0.42,"s":0.12},{"d":"PhoQ","k":"K=64","m":"PEX","x":9,"y":0.43,"s":0.12},{"d":"PhoQ","k":"K=64","m":"PEX","x":10,"y":0.485,"s":0.12},
{"d":"PhoQ","k":"K=64","m":"AdaLead","x":0,"y":0.02,"s":0},{"d":"PhoQ","k":"K=64","m":"AdaLead","x":1,"y":0.12,"s":0.04},{"d":"PhoQ","k":"K=64","m":"AdaLead","x":2,"y":0.19,"s":0.065},{"d":"PhoQ","k":"K=64","m":"AdaLead","x":3,"y":0.24,"s":0.085},{"d":"PhoQ","k":"K=64","m":"AdaLead","x":4,"y":0.26,"s":0.10},{"d":"PhoQ","k":"K=64","m":"AdaLead","x":5,"y":0.31,"s":0.12},{"d":"PhoQ","k":"K=64","m":"AdaLead","x":6,"y":0.35,"s":0.12},{"d":"PhoQ","k":"K=64","m":"AdaLead","x":7,"y":0.39,"s":0.12},{"d":"PhoQ","k":"K=64","m":"AdaLead","x":8,"y":0.43,"s":0.12},{"d":"PhoQ","k":"K=64","m":"AdaLead","x":9,"y":0.50,"s":0.12},{"d":"PhoQ","k":"K=64","m":"AdaLead","x":10,"y":0.515,"s":0.12},
{"d":"PhoQ","k":"K=64","m":"EvoPlay","x":0,"y":0.02,"s":0},{"d":"PhoQ","k":"K=64","m":"EvoPlay","x":1,"y":0.135,"s":0.035},{"d":"PhoQ","k":"K=64","m":"EvoPlay","x":2,"y":0.22,"s":0.055},{"d":"PhoQ","k":"K=64","m":"EvoPlay","x":3,"y":0.26,"s":0.07},{"d":"PhoQ","k":"K=64","m":"EvoPlay","x":4,"y":0.295,"s":0.085},{"d":"PhoQ","k":"K=64","m":"EvoPlay","x":5,"y":0.345,"s":0.10},{"d":"PhoQ","k":"K=64","m":"EvoPlay","x":6,"y":0.385,"s":0.10},{"d":"PhoQ","k":"K=64","m":"EvoPlay","x":7,"y":0.405,"s":0.10},{"d":"PhoQ","k":"K=64","m":"EvoPlay","x":8,"y":0.43,"s":0.10},{"d":"PhoQ","k":"K=64","m":"EvoPlay","x":9,"y":0.455,"s":0.10},{"d":"PhoQ","k":"K=64","m":"EvoPlay","x":10,"y":0.455,"s":0.10},
{"d":"PhoQ","k":"K=64","m":"HADES-L","x":0,"y":0.02,"s":0},{"d":"PhoQ","k":"K=64","m":"HADES-L","x":1,"y":0.155,"s":0.05},{"d":"PhoQ","k":"K=64","m":"HADES-L","x":2,"y":0.26,"s":0.08},{"d":"PhoQ","k":"K=64","m":"HADES-L","x":3,"y":0.31,"s":0.105},{"d":"PhoQ","k":"K=64","m":"HADES-L","x":4,"y":0.32,"s":0.13},{"d":"PhoQ","k":"K=64","m":"HADES-L","x":5,"y":0.365,"s":0.15},{"d":"PhoQ","k":"K=64","m":"HADES-L","x":6,"y":0.39,"s":0.15},{"d":"PhoQ","k":"K=64","m":"HADES-L","x":7,"y":0.405,"s":0.15},{"d":"PhoQ","k":"K=64","m":"HADES-L","x":8,"y":0.44,"s":0.15},{"d":"PhoQ","k":"K=64","m":"HADES-L","x":9,"y":0.57,"s":0.17},{"d":"PhoQ","k":"K=64","m":"HADES-L","x":10,"y":0.63,"s":0.2},
{"d":"PhoQ","k":"K=64","m":"HADES","x":0,"y":0.02,"s":0},{"d":"PhoQ","k":"K=64","m":"HADES","x":1,"y":0.16,"s":0.07},{"d":"PhoQ","k":"K=64","m":"HADES","x":2,"y":0.235,"s":0.1},{"d":"PhoQ","k":"K=64","m":"HADES","x":3,"y":0.41,"s":0.24},{"d":"PhoQ","k":"K=64","m":"HADES","x":4,"y":0.44,"s":0.25},{"d":"PhoQ","k":"K=64","m":"HADES","x":5,"y":0.535,"s":0.28},{"d":"PhoQ","k":"K=64","m":"HADES","x":6,"y":0.605,"s":0.28},{"d":"PhoQ","k":"K=64","m":"HADES","x":7,"y":0.615,"s":0.27},{"d":"PhoQ","k":"K=64","m":"HADES","x":8,"y":0.615,"s":0.27},{"d":"PhoQ","k":"K=64","m":"HADES","x":9,"y":0.63,"s":0.26},{"d":"PhoQ","k":"K=64","m":"HADES","x":10,"y":0.63,"s":0.26},

{"d":"PhoQ","k":"K=128","m":"BO","x":0,"y":0.02,"s":0},{"d":"PhoQ","k":"K=128","m":"BO","x":1,"y":0.135,"s":0.03},{"d":"PhoQ","k":"K=128","m":"BO","x":2,"y":0.175,"s":0.045},{"d":"PhoQ","k":"K=128","m":"BO","x":3,"y":0.185,"s":0.055},{"d":"PhoQ","k":"K=128","m":"BO","x":4,"y":0.205,"s":0.07},{"d":"PhoQ","k":"K=128","m":"BO","x":5,"y":0.21,"s":0.08},{"d":"PhoQ","k":"K=128","m":"BO","x":6,"y":0.22,"s":0.08},{"d":"PhoQ","k":"K=128","m":"BO","x":7,"y":0.235,"s":0.08},{"d":"PhoQ","k":"K=128","m":"BO","x":8,"y":0.265,"s":0.08},{"d":"PhoQ","k":"K=128","m":"BO","x":9,"y":0.265,"s":0.08},{"d":"PhoQ","k":"K=128","m":"BO","x":10,"y":0.265,"s":0.08},
{"d":"PhoQ","k":"K=128","m":"CMA-ES","x":0,"y":0.02,"s":0},{"d":"PhoQ","k":"K=128","m":"CMA-ES","x":1,"y":0.16,"s":0.04},{"d":"PhoQ","k":"K=128","m":"CMA-ES","x":2,"y":0.21,"s":0.065},{"d":"PhoQ","k":"K=128","m":"CMA-ES","x":3,"y":0.245,"s":0.085},{"d":"PhoQ","k":"K=128","m":"CMA-ES","x":4,"y":0.26,"s":0.10},{"d":"PhoQ","k":"K=128","m":"CMA-ES","x":5,"y":0.27,"s":0.12},{"d":"PhoQ","k":"K=128","m":"CMA-ES","x":6,"y":0.315,"s":0.12},{"d":"PhoQ","k":"K=128","m":"CMA-ES","x":7,"y":0.385,"s":0.12},{"d":"PhoQ","k":"K=128","m":"CMA-ES","x":8,"y":0.44,"s":0.12},{"d":"PhoQ","k":"K=128","m":"CMA-ES","x":9,"y":0.45,"s":0.12},{"d":"PhoQ","k":"K=128","m":"CMA-ES","x":10,"y":0.46,"s":0.12},
{"d":"PhoQ","k":"K=128","m":"PEX","x":0,"y":0.02,"s":0},{"d":"PhoQ","k":"K=128","m":"PEX","x":1,"y":0.185,"s":0.05},{"d":"PhoQ","k":"K=128","m":"PEX","x":2,"y":0.35,"s":0.08},{"d":"PhoQ","k":"K=128","m":"PEX","x":3,"y":0.365,"s":0.105},{"d":"PhoQ","k":"K=128","m":"PEX","x":4,"y":0.44,"s":0.13},{"d":"PhoQ","k":"K=128","m":"PEX","x":5,"y":0.45,"s":0.15},{"d":"PhoQ","k":"K=128","m":"PEX","x":6,"y":0.455,"s":0.15},{"d":"PhoQ","k":"K=128","m":"PEX","x":7,"y":0.47,"s":0.15},{"d":"PhoQ","k":"K=128","m":"PEX","x":8,"y":0.505,"s":0.15},{"d":"PhoQ","k":"K=128","m":"PEX","x":9,"y":0.515,"s":0.15},{"d":"PhoQ","k":"K=128","m":"PEX","x":10,"y":0.515,"s":0.15},
{"d":"PhoQ","k":"K=128","m":"AdaLead","x":0,"y":0.02,"s":0},{"d":"PhoQ","k":"K=128","m":"AdaLead","x":1,"y":0.19,"s":0.065},{"d":"PhoQ","k":"K=128","m":"AdaLead","x":2,"y":0.385,"s":0.1},{"d":"PhoQ","k":"K=128","m":"AdaLead","x":3,"y":0.465,"s":0.125},{"d":"PhoQ","k":"K=128","m":"AdaLead","x":4,"y":0.50,"s":0.155},{"d":"PhoQ","k":"K=128","m":"AdaLead","x":5,"y":0.57,"s":0.18},{"d":"PhoQ","k":"K=128","m":"AdaLead","x":6,"y":0.61,"s":0.18},{"d":"PhoQ","k":"K=128","m":"AdaLead","x":7,"y":0.645,"s":0.18},{"d":"PhoQ","k":"K=128","m":"AdaLead","x":8,"y":0.685,"s":0.18},{"d":"PhoQ","k":"K=128","m":"AdaLead","x":9,"y":0.765,"s":0.18},{"d":"PhoQ","k":"K=128","m":"AdaLead","x":10,"y":0.77,"s":0.18},
{"d":"PhoQ","k":"K=128","m":"EvoPlay","x":0,"y":0.02,"s":0},{"d":"PhoQ","k":"K=128","m":"EvoPlay","x":1,"y":0.175,"s":0.065},{"d":"PhoQ","k":"K=128","m":"EvoPlay","x":2,"y":0.24,"s":0.1},{"d":"PhoQ","k":"K=128","m":"EvoPlay","x":3,"y":0.365,"s":0.125},{"d":"PhoQ","k":"K=128","m":"EvoPlay","x":4,"y":0.39,"s":0.155},{"d":"PhoQ","k":"K=128","m":"EvoPlay","x":5,"y":0.50,"s":0.18},{"d":"PhoQ","k":"K=128","m":"EvoPlay","x":6,"y":0.505,"s":0.18},{"d":"PhoQ","k":"K=128","m":"EvoPlay","x":7,"y":0.575,"s":0.18},{"d":"PhoQ","k":"K=128","m":"EvoPlay","x":8,"y":0.64,"s":0.18},{"d":"PhoQ","k":"K=128","m":"EvoPlay","x":9,"y":0.735,"s":0.18},{"d":"PhoQ","k":"K=128","m":"EvoPlay","x":10,"y":0.755,"s":0.18},
{"d":"PhoQ","k":"K=128","m":"HADES-L","x":0,"y":0.02,"s":0},{"d":"PhoQ","k":"K=128","m":"HADES-L","x":1,"y":0.205,"s":0.07},{"d":"PhoQ","k":"K=128","m":"HADES-L","x":2,"y":0.425,"s":0.11},{"d":"PhoQ","k":"K=128","m":"HADES-L","x":3,"y":0.52,"s":0.14},{"d":"PhoQ","k":"K=128","m":"HADES-L","x":4,"y":0.59,"s":0.17},{"d":"PhoQ","k":"K=128","m":"HADES-L","x":5,"y":0.595,"s":0.20},{"d":"PhoQ","k":"K=128","m":"HADES-L","x":6,"y":0.655,"s":0.20},{"d":"PhoQ","k":"K=128","m":"HADES-L","x":7,"y":0.655,"s":0.20},{"d":"PhoQ","k":"K=128","m":"HADES-L","x":8,"y":0.715,"s":0.20},{"d":"PhoQ","k":"K=128","m":"HADES-L","x":9,"y":0.77,"s":0.20},{"d":"PhoQ","k":"K=128","m":"HADES-L","x":10,"y":0.795,"s":0.20},
{"d":"PhoQ","k":"K=128","m":"HADES","x":0,"y":0.02,"s":0},{"d":"PhoQ","k":"K=128","m":"HADES","x":1,"y":0.21,"s":0.09},{"d":"PhoQ","k":"K=128","m":"HADES","x":2,"y":0.48,"s":0.25},{"d":"PhoQ","k":"K=128","m":"HADES","x":3,"y":0.585,"s":0.27},{"d":"PhoQ","k":"K=128","m":"HADES","x":4,"y":0.73,"s":0.27},{"d":"PhoQ","k":"K=128","m":"HADES","x":5,"y":0.835,"s":0.25},{"d":"PhoQ","k":"K=128","m":"HADES","x":6,"y":0.845,"s":0.25},{"d":"PhoQ","k":"K=128","m":"HADES","x":7,"y":0.855,"s":0.25},{"d":"PhoQ","k":"K=128","m":"HADES","x":8,"y":0.855,"s":0.25},{"d":"PhoQ","k":"K=128","m":"HADES","x":9,"y":0.855,"s":0.25},{"d":"PhoQ","k":"K=128","m":"HADES","x":10,"y":0.90,"s":0.25}
]},
"data": {"name": "pts"},
"facet": {
  "row": {"field": "d", "type": "nominal", "sort": ["GB1", "PhoQ"], "title": null,
    "header": {"labelOrient": "left", "labelAngle": -90, "labelFontSize": 17, "labelPadding": 8, "labelFont": "Liberation Sans", "labelColor": "#111"}},
  "column": {"field": "k", "type": "nominal", "sort": ["K=16", "K=32", "K=64", "K=128"], "title": "Query rounds",
    "header": {"labelOrient": "top", "labelFontSize": 17, "labelPadding": 6, "labelFont": "Liberation Sans", "labelColor": "#111",
      "titleOrient": "bottom", "titleFontSize": 18.5, "titleFontWeight": "normal", "titleFont": "Liberation Sans", "titleColor": "#111", "titlePadding": 2}}
},
"spacing": {"row": 36, "column": 20},
"spec": {
  "width": 281,
  "height": 238,
  "layer": [
    {
      "mark": {"type": "errorband", "clip": true, "band": {"opacity": 0.14}},
      "encoding": {
        "x": {"field": "x", "type": "quantitative"},
        "y": {"field": "y", "type": "quantitative"},
        "yError": {"field": "s"},
        "color": {"field": "m", "type": "nominal",
          "scale": {"domain": ["BO", "CMA-ES", "PEX", "AdaLead", "EvoPlay", "HADES-L", "HADES"],
                    "range": ["#F2C584", "#B5A083", "#7A7A7A", "#B0B0B0", "#E8A28C", "#D5552F", "#6B2A1A"]}}
      }
    },
    {
      "mark": {"type": "line", "strokeWidth": 2.2, "clip": true},
      "encoding": {
        "x": {"field": "x", "type": "quantitative",
          "scale": {"domain": [-0.5, 10.5], "nice": false},
          "axis": {"values": [0, 2, 4, 6, 8, 10], "title": null}},
        "y": {"field": "y", "type": "quantitative",
          "scale": {"domain": [0, 1], "nice": false},
          "axis": {"values": [0, 0.2, 0.4, 0.6, 0.8, 1.0], "title": null,
            "labelExpr": "datum.value == 0 ? '0' : format(datum.value, '.1f')",
            "gridOpacity": {"condition": {"test": "datum.value == 0 || datum.value == 1", "value": 0}, "value": 1}}},
        "color": {"field": "m", "type": "nominal", "legend": {"title": null, "orient": "none", "legendX": 51, "legendY": 573}}
      }
    }
  ]
},
"config": {
  "font": "Liberation Sans",
  "view": {"stroke": "#111", "strokeWidth": 1.2},
  "axis": {"domain": false, "grid": true, "gridColor": "#d3d3d3", "gridDash": [4, 3], "gridWidth": 1,
    "tickColor": "#111", "tickSize": 6, "labelFontSize": 17, "labelColor": "#111", "labelPadding": 6,
    "labelFont": "Liberation Sans"},
  "legend": {"direction": "horizontal", "columns": 7, "labelFontSize": 18.5,
    "labelFont": "Liberation Sans", "labelColor": "#111", "symbolType": "stroke", "symbolStrokeWidth": 3,
    "symbolSize": 1444, "symbolOpacity": 1, "labelOffset": 11, "columnPadding": 32, "strokeColor": "#cccccc", "cornerRadius": 4,
    "padding": 3}
}
}
